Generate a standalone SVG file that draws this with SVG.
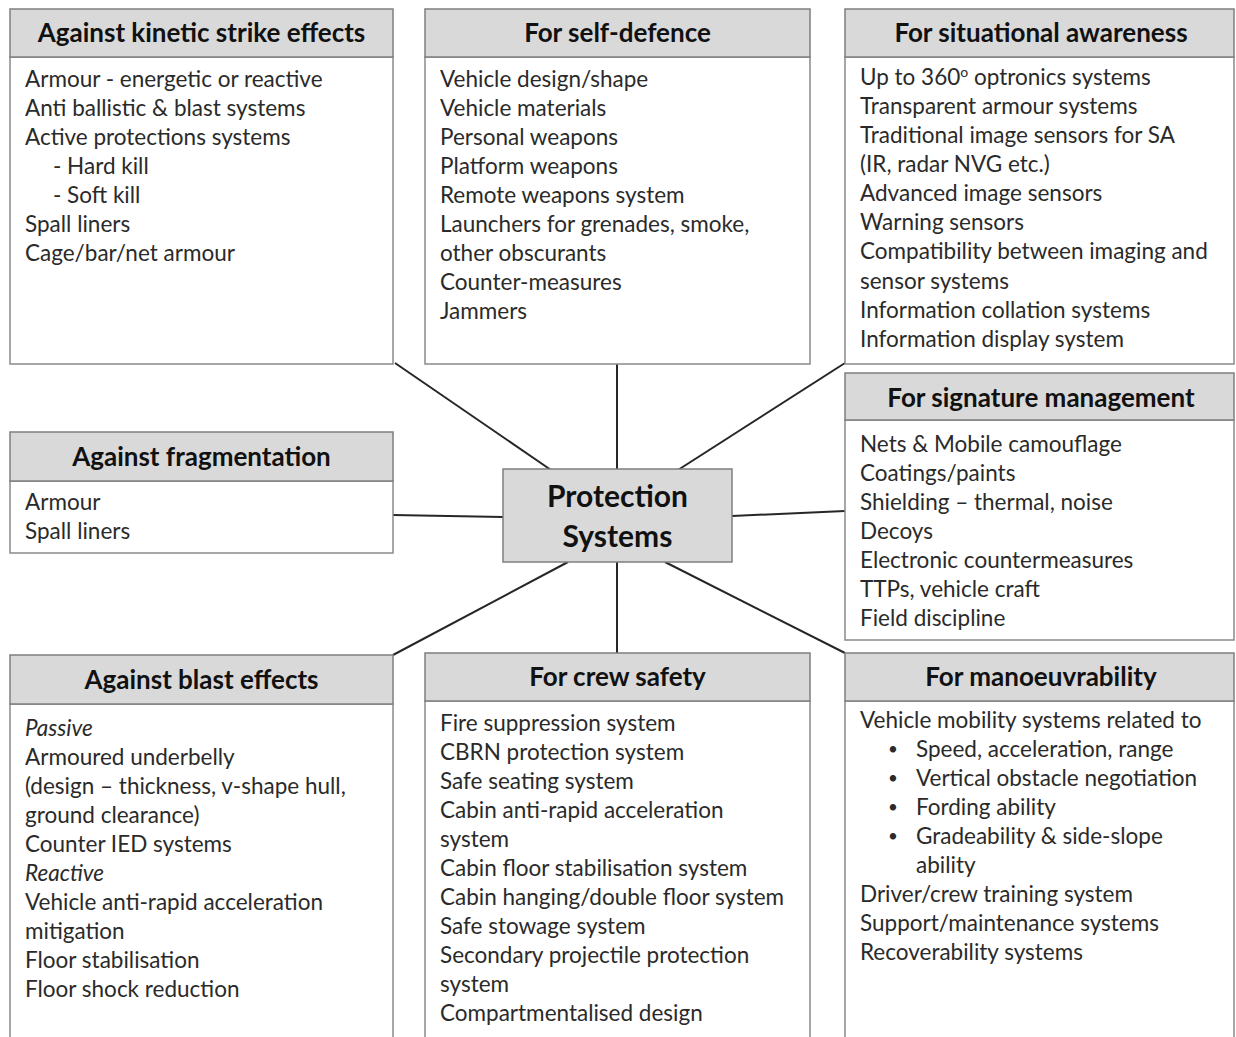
<svg xmlns="http://www.w3.org/2000/svg" width="1236" height="1037" viewBox="0 0 1236 1037">
<style>
.body{fill:#fff;stroke:#8a8a8a;stroke-width:1.5}
.head{fill:#d9d9d9;stroke:#7f7f7f;stroke-width:1.5}
.ht{font-family:Lato,"Open Sans",sans-serif;font-weight:bold;font-size:26px;fill:#111;text-anchor:middle}
.t{font-family:Lato,"Open Sans",sans-serif;font-size:22.5px;fill:#2a2a2a}
.b{font-family:Lato,"Open Sans",sans-serif;font-size:17px;fill:#2a2a2a}
.i{font-style:italic}
.ct{font-family:Lato,"Open Sans",sans-serif;font-weight:bold;font-size:30px;fill:#111;text-anchor:middle}
.c{stroke:#262626;stroke-width:2;fill:none}
</style>
<rect width="1236" height="1037" fill="#fff"/>
<g id="connectors">
<line class="c" x1="395" y1="363" x2="551" y2="470"/>
<line class="c" x1="617" y1="364" x2="617" y2="470"/>
<line class="c" x1="845" y1="363" x2="678" y2="470"/>
<line class="c" x1="393" y1="515" x2="503" y2="517"/>
<line class="c" x1="732" y1="516" x2="845" y2="511"/>
<line class="c" x1="393" y1="655" x2="568" y2="562"/>
<line class="c" x1="617" y1="562" x2="617" y2="653"/>
<line class="c" x1="665" y1="562" x2="845" y2="653"/>
</g>
<g id="kinetic">
<rect class="body" x="10" y="57" width="383" height="307"/>
<rect class="head" x="10" y="9" width="383" height="48"/>
<text class="ht" x="201.5" y="42">Against kinetic strike effects</text>
<text class="t" x="25" y="87">Armour - energetic or reactive</text>
<text class="t" x="25" y="116">Anti ballistic &amp; blast systems</text>
<text class="t" x="25" y="145">Active protections systems</text>
<text class="t" x="53" y="174">- Hard kill</text>
<text class="t" x="53" y="203">- Soft kill</text>
<text class="t" x="25" y="232">Spall liners</text>
<text class="t" x="25" y="261">Cage/bar/net armour</text>
</g>
<g id="selfdefence">
<rect class="body" x="425" y="57" width="385" height="307"/>
<rect class="head" x="425" y="9" width="385" height="48"/>
<text class="ht" x="617.5" y="42">For self-defence</text>
<text class="t" x="440" y="87">Vehicle design/shape</text>
<text class="t" x="440" y="116">Vehicle materials</text>
<text class="t" x="440" y="145">Personal weapons</text>
<text class="t" x="440" y="174">Platform weapons</text>
<text class="t" x="440" y="203">Remote weapons system</text>
<text class="t" x="440" y="232">Launchers for grenades, smoke,</text>
<text class="t" x="440" y="261">other obscurants</text>
<text class="t" x="440" y="290">Counter-measures</text>
<text class="t" x="440" y="319">Jammers</text>
</g>
<g id="situational">
<rect class="body" x="845" y="57" width="389" height="307"/>
<rect class="head" x="845" y="9" width="389" height="48"/>
<text class="ht" x="1041" y="42">For situational awareness</text>
<text class="t" x="860" y="85">Up to 360<tspan font-size="14" dy="-8">o</tspan><tspan dy="8"> optronics systems</tspan></text>
<text class="t" x="860" y="114">Transparent armour systems</text>
<text class="t" x="860" y="143">Traditional image sensors for SA</text>
<text class="t" x="860" y="172">(IR, radar NVG etc.)</text>
<text class="t" x="860" y="201">Advanced image sensors</text>
<text class="t" x="860" y="230">Warning sensors</text>
<text class="t" x="860" y="259">Compatibility between imaging and</text>
<text class="t" x="860" y="289">sensor systems</text>
<text class="t" x="860" y="318">Information collation systems</text>
<text class="t" x="860" y="347">Information display system</text>
</g>
<g id="fragmentation">
<rect class="body" x="10" y="481" width="383" height="72"/>
<rect class="head" x="10" y="432" width="383" height="49"/>
<text class="ht" x="201.5" y="466">Against fragmentation</text>
<text class="t" x="25" y="510">Armour</text>
<text class="t" x="25" y="539">Spall liners</text>
</g>
<g id="center">
<rect x="503" y="469" width="229" height="93" fill="#d9d9d9" stroke="#7f7f7f" stroke-width="1.5"/>
<text class="ct" x="617.5" y="507">Protection</text>
<text class="ct" x="617.5" y="547">Systems</text>
</g>
<g id="signature">
<rect class="body" x="845" y="420" width="389" height="220"/>
<rect class="head" x="845" y="373" width="389" height="47"/>
<text class="ht" x="1041" y="407">For signature management</text>
<text class="t" x="860" y="452">Nets &amp; Mobile camouflage</text>
<text class="t" x="860" y="481">Coatings/paints</text>
<text class="t" x="860" y="510">Shielding – thermal, noise</text>
<text class="t" x="860" y="539">Decoys</text>
<text class="t" x="860" y="568">Electronic countermeasures</text>
<text class="t" x="860" y="597">TTPs, vehicle craft</text>
<text class="t" x="860" y="626">Field discipline</text>
</g>
<g id="blast">
<rect class="body" x="10" y="704" width="383" height="340"/>
<rect class="head" x="10" y="655" width="383" height="49"/>
<text class="ht" x="201.5" y="689">Against blast effects</text>
<text class="t i" x="25" y="736">Passive</text>
<text class="t" x="25" y="765">Armoured underbelly</text>
<text class="t" x="25" y="794">(design – thickness, v-shape hull,</text>
<text class="t" x="25" y="823">ground clearance)</text>
<text class="t" x="25" y="852">Counter IED systems</text>
<text class="t i" x="25" y="881">Reactive</text>
<text class="t" x="25" y="910">Vehicle anti-rapid acceleration</text>
<text class="t" x="25" y="939">mitigation</text>
<text class="t" x="25" y="968">Floor stabilisation</text>
<text class="t" x="25" y="997">Floor shock reduction</text>
</g>
<g id="crew">
<rect class="body" x="425" y="701" width="385" height="343"/>
<rect class="head" x="425" y="653" width="385" height="48"/>
<text class="ht" x="617.5" y="686">For crew safety</text>
<text class="t" x="440" y="731">Fire suppression system</text>
<text class="t" x="440" y="760">CBRN protection system</text>
<text class="t" x="440" y="789">Safe seating system</text>
<text class="t" x="440" y="818">Cabin anti-rapid acceleration</text>
<text class="t" x="440" y="847">system</text>
<text class="t" x="440" y="876">Cabin floor stabilisation system</text>
<text class="t" x="440" y="905">Cabin hanging/double floor system</text>
<text class="t" x="440" y="934">Safe stowage system</text>
<text class="t" x="440" y="963">Secondary projectile protection</text>
<text class="t" x="440" y="992">system</text>
<text class="t" x="440" y="1021">Compartmentalised design</text>
</g>
<g id="manoeuvrability">
<rect class="body" x="845" y="701" width="389" height="343"/>
<rect class="head" x="845" y="653" width="389" height="48"/>
<text class="ht" x="1041" y="686">For manoeuvrability</text>
<text class="t" x="860" y="728">Vehicle mobility systems related to</text>
<text class="b" x="888" y="755">•</text>
<text class="t" x="916" y="757">Speed, acceleration, range</text>
<text class="b" x="888" y="784">•</text>
<text class="t" x="916" y="786">Vertical obstacle negotiation</text>
<text class="b" x="888" y="813">•</text>
<text class="t" x="916" y="815">Fording ability</text>
<text class="b" x="888" y="842">•</text>
<text class="t" x="916" y="844">Gradeability &amp; side-slope</text>
<text class="t" x="916" y="873">ability</text>
<text class="t" x="860" y="902">Driver/crew training system</text>
<text class="t" x="860" y="931">Support/maintenance systems</text>
<text class="t" x="860" y="960">Recoverability systems</text>
</g>
</svg>
